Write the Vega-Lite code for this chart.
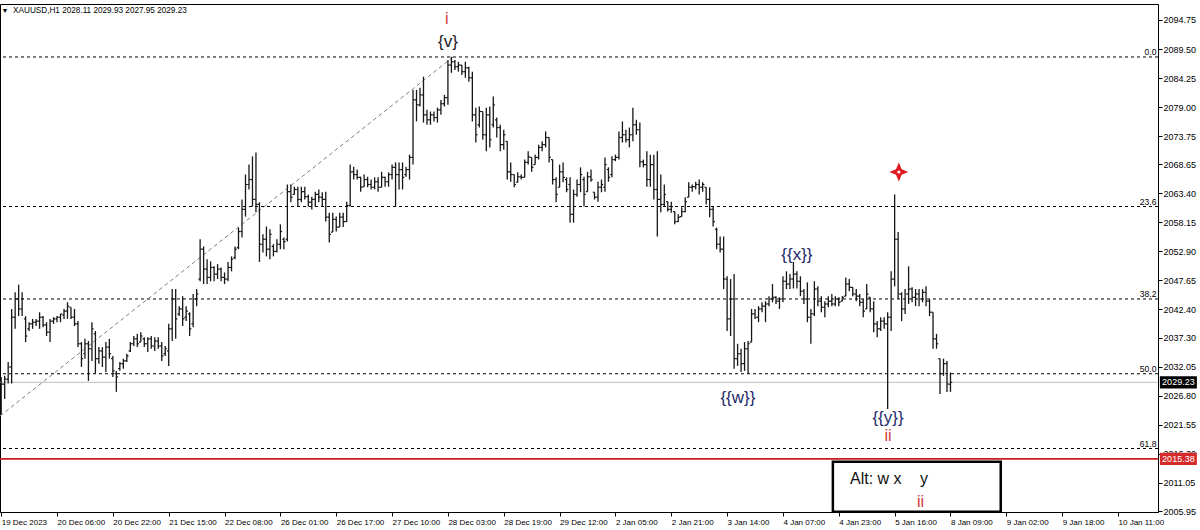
{
"$schema": "https://vega.github.io/schema/vega-lite/v6.json",
"width": 1158, "height": 508,
"autosize": {"type": "none"},
"padding": {"left": 0, "top": 4, "right": 42, "bottom": 18},
"background": "white",
"config": {"view": {"stroke": "#000", "strokeWidth": 1}, "font": "Liberation Sans", "axis": {"grid": false, "domainColor": "#000", "tickColor": "#000", "labelColor": "#000"}},
"datasets": {
"fib": [{"lvl": "0.0", "p": 2088.06}, {"lvl": "23.6", "p": 2061.02}, {"lvl": "38.2", "p": 2044.3}, {"lvl": "50.0", "p": 2030.78}, {"lvl": "61.8", "p": 2017.26}],
"bid": [{"p": 2029.23, "t": "2029.23"}],
"alert": [{"p": 2015.38, "t": "2015.38"}],
"trend": [{"i": -0.34, "p": 2023.14}, {"i": 129.5, "p": 2088.06}],
"navy": [{"i": 228.0, "p": 2052.25, "t": "{{x}}"}, {"i": 211.1, "p": 2026.39, "t": "{{w}}"}, {"i": 254.1, "p": 2022.78, "t": "{{y}}"}],
"dark": [{"i": 128.0, "p": 2090.8, "t": "{v}"}],
"red": [{"i": 127.7, "p": 2094.9, "t": "i"}, {"i": 254.1, "p": 2019.52, "t": "ii"}],
"redbox": [{"i": 263.4, "p": 2007.59, "t": "ii"}],
"star": [{"i": 257.2, "p": 2067.26}],
"box": [{"x1": 238.3, "x2": 286.4, "p1": 2005.84, "p2": 2014.88}],
"boxtext": [{"i": 243.2, "p": 2011.8, "t": "Alt: w x"}, {"i": 263.3, "p": 2011.8, "t": "y"}],
"head": [{"i": 3.4, "p": 2096.4, "t": "XAUUSD,H1  2028.11 2029.93 2027.95 2029.23"}],
"tri": [{"i": 1.1, "p": 2096.4, "t": "▼"}],
"bars": [
{"i":0,"o":2024.4,"h":2030.2,"l":2023.4,"c":2028.9},
{"i":1,"o":2028.9,"h":2030.4,"l":2026.2,"c":2029.8},
{"i":2,"o":2029.8,"h":2032.9,"l":2029.0,"c":2032.0},
{"i":3,"o":2032.0,"h":2042.5,"l":2029.0,"c":2041.0},
{"i":4,"o":2041.0,"h":2045.5,"l":2038.9,"c":2044.3},
{"i":5,"o":2044.3,"h":2046.9,"l":2041.2,"c":2042.5},
{"i":6,"o":2042.5,"h":2045.5,"l":2041.2,"c":2044.3},
{"i":7,"o":2040.7,"h":2041.2,"l":2036.5,"c":2037.6},
{"i":8,"o":2038.9,"h":2040.1,"l":2038.5,"c":2039.8},
{"i":9,"o":2039.8,"h":2040.7,"l":2038.9,"c":2040.1},
{"i":10,"o":2040.1,"h":2040.7,"l":2039.4,"c":2040.3},
{"i":11,"o":2040.3,"h":2041.9,"l":2038.9,"c":2041.0},
{"i":12,"o":2041.0,"h":2041.2,"l":2039.2,"c":2039.6},
{"i":13,"o":2039.6,"h":2040.1,"l":2037.6,"c":2038.3},
{"i":14,"o":2038.3,"h":2040.7,"l":2036.5,"c":2040.3},
{"i":15,"o":2040.3,"h":2041.0,"l":2039.8,"c":2040.7},
{"i":16,"o":2040.7,"h":2041.2,"l":2040.1,"c":2041.0},
{"i":17,"o":2041.0,"h":2041.6,"l":2040.1,"c":2041.6},
{"i":18,"o":2041.4,"h":2042.5,"l":2040.7,"c":2042.1},
{"i":19,"o":2042.1,"h":2043.7,"l":2040.7,"c":2043.0},
{"i":20,"o":2042.8,"h":2042.8,"l":2040.7,"c":2041.0},
{"i":21,"o":2041.0,"h":2042.5,"l":2039.4,"c":2039.8},
{"i":22,"o":2039.8,"h":2040.3,"l":2035.6,"c":2036.2},
{"i":23,"o":2036.2,"h":2036.5,"l":2032.0,"c":2033.5},
{"i":24,"o":2034.4,"h":2037.1,"l":2033.5,"c":2036.2},
{"i":25,"o":2036.2,"h":2036.7,"l":2029.5,"c":2035.3},
{"i":26,"o":2035.3,"h":2040.1,"l":2033.1,"c":2038.9},
{"i":27,"o":2038.0,"h":2038.5,"l":2030.8,"c":2033.5},
{"i":28,"o":2033.5,"h":2035.6,"l":2032.6,"c":2034.9},
{"i":29,"o":2034.9,"h":2035.6,"l":2032.0,"c":2033.8},
{"i":30,"o":2033.8,"h":2036.5,"l":2031.1,"c":2035.6},
{"i":31,"o":2035.6,"h":2037.1,"l":2033.5,"c":2034.4},
{"i":32,"o":2033.5,"h":2034.0,"l":2030.2,"c":2031.3},
{"i":33,"o":2030.8,"h":2031.3,"l":2027.5,"c":2030.2},
{"i":34,"o":2031.7,"h":2032.9,"l":2031.3,"c":2032.6},
{"i":35,"o":2032.6,"h":2033.5,"l":2031.7,"c":2033.1},
{"i":36,"o":2033.1,"h":2034.4,"l":2032.9,"c":2034.0},
{"i":37,"o":2034.9,"h":2036.5,"l":2034.7,"c":2036.2},
{"i":38,"o":2036.2,"h":2037.6,"l":2035.8,"c":2037.1},
{"i":39,"o":2037.1,"h":2038.0,"l":2035.6,"c":2036.2},
{"i":40,"o":2036.5,"h":2038.3,"l":2036.5,"c":2037.6},
{"i":41,"o":2037.1,"h":2037.4,"l":2035.6,"c":2036.2},
{"i":42,"o":2036.2,"h":2037.4,"l":2034.7,"c":2037.1},
{"i":43,"o":2037.1,"h":2037.6,"l":2035.3,"c":2035.8},
{"i":44,"o":2035.8,"h":2037.4,"l":2034.9,"c":2036.7},
{"i":45,"o":2036.7,"h":2037.4,"l":2035.3,"c":2035.8},
{"i":46,"o":2035.8,"h":2036.5,"l":2033.1,"c":2034.0},
{"i":47,"o":2034.4,"h":2035.8,"l":2034.0,"c":2035.3},
{"i":48,"o":2034.9,"h":2039.8,"l":2032.2,"c":2038.9},
{"i":49,"o":2038.9,"h":2046.1,"l":2036.7,"c":2044.3},
{"i":50,"o":2044.3,"h":2046.1,"l":2037.1,"c":2040.7},
{"i":51,"o":2041.6,"h":2043.0,"l":2041.2,"c":2042.5},
{"i":52,"o":2042.5,"h":2044.8,"l":2039.4,"c":2040.7},
{"i":53,"o":2041.0,"h":2043.0,"l":2040.3,"c":2042.1},
{"i":54,"o":2041.6,"h":2041.9,"l":2037.6,"c":2038.9},
{"i":55,"o":2039.8,"h":2045.2,"l":2039.2,"c":2044.3},
{"i":56,"o":2044.3,"h":2046.1,"l":2043.0,"c":2045.2},
{"i":57,"o":2047.9,"h":2055.1,"l":2047.5,"c":2053.3},
{"i":58,"o":2053.3,"h":2053.8,"l":2047.0,"c":2049.7},
{"i":59,"o":2049.7,"h":2051.5,"l":2047.0,"c":2048.2},
{"i":60,"o":2048.2,"h":2051.1,"l":2047.5,"c":2050.0},
{"i":61,"o":2050.0,"h":2050.2,"l":2047.5,"c":2048.8},
{"i":62,"o":2048.8,"h":2050.6,"l":2047.9,"c":2049.7},
{"i":63,"o":2049.7,"h":2050.0,"l":2047.5,"c":2048.2},
{"i":64,"o":2048.2,"h":2049.1,"l":2047.0,"c":2047.9},
{"i":65,"o":2047.9,"h":2051.0,"l":2047.5,"c":2050.0},
{"i":66,"o":2050.0,"h":2052.0,"l":2049.3,"c":2051.5},
{"i":67,"o":2051.8,"h":2053.8,"l":2051.5,"c":2053.3},
{"i":68,"o":2053.6,"h":2057.2,"l":2053.3,"c":2056.5},
{"i":69,"o":2056.5,"h":2062.3,"l":2055.4,"c":2060.5},
{"i":70,"o":2060.5,"h":2066.8,"l":2059.2,"c":2065.0},
{"i":71,"o":2065.0,"h":2068.6,"l":2064.1,"c":2065.9},
{"i":72,"o":2065.9,"h":2070.1,"l":2061.0,"c":2062.3},
{"i":73,"o":2062.3,"h":2070.8,"l":2060.0,"c":2061.4},
{"i":74,"o":2061.4,"h":2061.8,"l":2051.0,"c":2054.2},
{"i":75,"o":2054.2,"h":2056.0,"l":2052.7,"c":2055.1},
{"i":76,"o":2055.1,"h":2057.4,"l":2052.0,"c":2053.3},
{"i":77,"o":2053.3,"h":2056.9,"l":2051.5,"c":2056.0},
{"i":78,"o":2053.8,"h":2054.2,"l":2052.0,"c":2052.9},
{"i":79,"o":2052.9,"h":2055.1,"l":2052.7,"c":2054.2},
{"i":80,"o":2054.2,"h":2057.8,"l":2053.3,"c":2056.5},
{"i":81,"o":2055.1,"h":2055.4,"l":2053.3,"c":2054.7},
{"i":82,"o":2055.1,"h":2065.0,"l":2054.7,"c":2063.7},
{"i":83,"o":2063.7,"h":2065.0,"l":2061.8,"c":2062.7},
{"i":84,"o":2063.2,"h":2064.6,"l":2063.2,"c":2064.1},
{"i":85,"o":2064.1,"h":2064.6,"l":2061.0,"c":2062.3},
{"i":86,"o":2062.3,"h":2064.6,"l":2061.8,"c":2063.7},
{"i":87,"o":2063.7,"h":2064.6,"l":2062.3,"c":2062.8},
{"i":88,"o":2062.8,"h":2063.2,"l":2061.0,"c":2061.8},
{"i":89,"o":2061.8,"h":2062.8,"l":2060.5,"c":2062.3},
{"i":90,"o":2062.3,"h":2063.7,"l":2061.0,"c":2063.2},
{"i":91,"o":2063.2,"h":2064.1,"l":2061.8,"c":2062.7},
{"i":92,"o":2062.7,"h":2063.6,"l":2061.0,"c":2062.3},
{"i":93,"o":2062.3,"h":2063.7,"l":2058.3,"c":2059.1},
{"i":94,"o":2059.1,"h":2059.9,"l":2054.5,"c":2056.0},
{"i":95,"o":2056.4,"h":2059.9,"l":2056.4,"c":2058.7},
{"i":96,"o":2058.7,"h":2059.2,"l":2056.5,"c":2057.3},
{"i":97,"o":2057.3,"h":2059.9,"l":2057.3,"c":2059.1},
{"i":98,"o":2059.1,"h":2059.9,"l":2057.3,"c":2058.3},
{"i":99,"o":2058.3,"h":2061.9,"l":2058.2,"c":2061.2},
{"i":100,"o":2061.2,"h":2068.6,"l":2061.0,"c":2067.3},
{"i":101,"o":2067.3,"h":2068.2,"l":2065.9,"c":2066.8},
{"i":102,"o":2066.8,"h":2067.7,"l":2065.9,"c":2066.3},
{"i":103,"o":2066.3,"h":2066.4,"l":2063.7,"c":2064.5},
{"i":104,"o":2064.6,"h":2066.8,"l":2064.6,"c":2065.9},
{"i":105,"o":2065.9,"h":2066.4,"l":2064.5,"c":2065.0},
{"i":106,"o":2065.0,"h":2065.9,"l":2064.1,"c":2064.5},
{"i":107,"o":2064.5,"h":2066.3,"l":2064.1,"c":2065.5},
{"i":108,"o":2065.5,"h":2066.3,"l":2063.7,"c":2064.5},
{"i":109,"o":2064.5,"h":2067.3,"l":2064.5,"c":2066.3},
{"i":110,"o":2066.3,"h":2066.4,"l":2064.6,"c":2065.5},
{"i":111,"o":2065.5,"h":2067.2,"l":2064.6,"c":2066.8},
{"i":112,"o":2066.8,"h":2068.6,"l":2065.9,"c":2068.1},
{"i":113,"o":2068.1,"h":2069.0,"l":2061.0,"c":2066.8},
{"i":114,"o":2066.8,"h":2069.0,"l":2064.1,"c":2067.7},
{"i":115,"o":2067.7,"h":2069.0,"l":2064.1,"c":2066.3},
{"i":116,"o":2066.8,"h":2068.2,"l":2066.4,"c":2067.7},
{"i":117,"o":2067.7,"h":2070.4,"l":2065.9,"c":2069.9},
{"i":118,"o":2069.9,"h":2082.1,"l":2068.6,"c":2080.3},
{"i":119,"o":2080.3,"h":2082.1,"l":2076.4,"c":2079.4},
{"i":120,"o":2079.4,"h":2082.5,"l":2079.1,"c":2081.2},
{"i":121,"o":2081.2,"h":2084.5,"l":2076.2,"c":2077.6},
{"i":122,"o":2077.6,"h":2078.5,"l":2075.8,"c":2076.7},
{"i":123,"o":2076.7,"h":2078.2,"l":2075.8,"c":2077.6},
{"i":124,"o":2077.6,"h":2078.2,"l":2076.4,"c":2077.1},
{"i":125,"o":2077.1,"h":2078.9,"l":2076.2,"c":2078.5},
{"i":126,"o":2078.5,"h":2080.3,"l":2077.6,"c":2079.6},
{"i":127,"o":2079.6,"h":2081.2,"l":2079.1,"c":2080.7},
{"i":128,"o":2080.7,"h":2087.5,"l":2079.4,"c":2086.6},
{"i":129,"o":2086.6,"h":2088.1,"l":2085.2,"c":2087.2},
{"i":130,"o":2087.2,"h":2087.5,"l":2085.7,"c":2086.3},
{"i":131,"o":2086.3,"h":2087.2,"l":2085.4,"c":2086.6},
{"i":132,"o":2086.6,"h":2086.6,"l":2084.8,"c":2085.4},
{"i":133,"o":2085.4,"h":2087.2,"l":2084.3,"c":2086.1},
{"i":134,"o":2086.1,"h":2086.3,"l":2083.6,"c":2084.3},
{"i":135,"o":2084.3,"h":2085.4,"l":2076.4,"c":2077.6},
{"i":136,"o":2077.6,"h":2078.9,"l":2072.6,"c":2074.0},
{"i":137,"o":2075.8,"h":2079.1,"l":2075.3,"c":2078.2},
{"i":138,"o":2078.2,"h":2078.2,"l":2073.1,"c":2074.0},
{"i":139,"o":2074.0,"h":2078.9,"l":2071.0,"c":2077.6},
{"i":140,"o":2077.6,"h":2079.1,"l":2071.7,"c":2073.1},
{"i":141,"o":2075.8,"h":2080.9,"l":2075.3,"c":2079.4},
{"i":142,"o":2076.7,"h":2077.1,"l":2073.5,"c":2075.3},
{"i":143,"o":2075.3,"h":2075.8,"l":2071.0,"c":2072.2},
{"i":144,"o":2072.2,"h":2074.9,"l":2071.3,"c":2074.0},
{"i":145,"o":2072.8,"h":2072.8,"l":2065.9,"c":2067.3},
{"i":146,"o":2067.3,"h":2069.0,"l":2065.5,"c":2066.8},
{"i":147,"o":2066.8,"h":2066.8,"l":2064.5,"c":2065.0},
{"i":148,"o":2065.4,"h":2067.2,"l":2065.4,"c":2066.4},
{"i":149,"o":2066.4,"h":2066.8,"l":2065.9,"c":2066.3},
{"i":150,"o":2066.3,"h":2069.5,"l":2066.3,"c":2069.0},
{"i":151,"o":2069.0,"h":2071.0,"l":2068.6,"c":2070.0},
{"i":152,"o":2069.9,"h":2069.9,"l":2067.3,"c":2068.1},
{"i":153,"o":2068.6,"h":2070.4,"l":2068.6,"c":2069.9},
{"i":154,"o":2069.9,"h":2072.2,"l":2069.5,"c":2071.7},
{"i":155,"o":2071.7,"h":2072.8,"l":2071.0,"c":2072.2},
{"i":156,"o":2072.2,"h":2074.6,"l":2071.7,"c":2073.5},
{"i":157,"o":2073.5,"h":2073.5,"l":2069.0,"c":2069.9},
{"i":158,"o":2069.5,"h":2069.5,"l":2065.0,"c":2065.9},
{"i":159,"o":2065.9,"h":2066.3,"l":2061.8,"c":2063.2},
{"i":160,"o":2064.5,"h":2068.6,"l":2064.5,"c":2067.3},
{"i":161,"o":2067.3,"h":2069.0,"l":2065.4,"c":2066.3},
{"i":162,"o":2065.9,"h":2066.3,"l":2063.6,"c":2064.1},
{"i":163,"o":2065.0,"h":2066.3,"l":2058.1,"c":2059.6},
{"i":164,"o":2059.6,"h":2064.1,"l":2058.1,"c":2063.2},
{"i":165,"o":2063.2,"h":2065.9,"l":2062.8,"c":2065.0},
{"i":166,"o":2065.0,"h":2068.1,"l":2063.6,"c":2066.8},
{"i":167,"o":2065.9,"h":2066.4,"l":2061.0,"c":2063.2},
{"i":168,"o":2063.7,"h":2067.3,"l":2063.7,"c":2066.4},
{"i":169,"o":2066.4,"h":2067.7,"l":2065.5,"c":2065.9},
{"i":170,"o":2063.6,"h":2063.6,"l":2062.3,"c":2062.7},
{"i":171,"o":2062.7,"h":2065.5,"l":2061.9,"c":2064.5},
{"i":172,"o":2064.5,"h":2065.9,"l":2063.6,"c":2065.0},
{"i":173,"o":2064.5,"h":2069.9,"l":2063.7,"c":2068.6},
{"i":174,"o":2067.7,"h":2068.1,"l":2065.5,"c":2066.3},
{"i":175,"o":2066.8,"h":2070.1,"l":2066.3,"c":2069.5},
{"i":176,"o":2069.5,"h":2070.4,"l":2069.2,"c":2069.9},
{"i":177,"o":2069.9,"h":2074.6,"l":2069.5,"c":2073.5},
{"i":178,"o":2073.5,"h":2076.4,"l":2072.6,"c":2074.0},
{"i":179,"o":2074.0,"h":2074.9,"l":2072.6,"c":2073.1},
{"i":180,"o":2073.1,"h":2075.3,"l":2071.7,"c":2074.0},
{"i":181,"o":2074.0,"h":2078.9,"l":2072.8,"c":2075.8},
{"i":182,"o":2075.8,"h":2076.7,"l":2074.0,"c":2074.9},
{"i":183,"o":2074.9,"h":2076.2,"l":2068.1,"c":2069.1},
{"i":184,"o":2069.1,"h":2069.5,"l":2068.1,"c":2068.6},
{"i":185,"o":2068.6,"h":2071.0,"l":2064.6,"c":2065.9},
{"i":186,"o":2065.9,"h":2070.4,"l":2064.6,"c":2068.6},
{"i":187,"o":2068.6,"h":2070.4,"l":2062.3,"c":2064.1},
{"i":188,"o":2064.1,"h":2071.0,"l":2055.6,"c":2062.3},
{"i":189,"o":2062.3,"h":2066.8,"l":2060.0,"c":2061.4},
{"i":190,"o":2061.4,"h":2065.0,"l":2061.0,"c":2063.2},
{"i":191,"o":2061.9,"h":2061.9,"l":2060.1,"c":2060.5},
{"i":192,"o":2060.5,"h":2061.9,"l":2059.9,"c":2061.0},
{"i":193,"o":2060.1,"h":2060.1,"l":2057.8,"c":2058.3},
{"i":194,"o":2058.3,"h":2059.6,"l":2058.2,"c":2059.1},
{"i":195,"o":2059.2,"h":2060.9,"l":2059.2,"c":2060.1},
{"i":196,"o":2060.1,"h":2062.7,"l":2060.0,"c":2061.9},
{"i":197,"o":2062.7,"h":2065.4,"l":2062.7,"c":2064.5},
{"i":198,"o":2064.5,"h":2065.0,"l":2063.7,"c":2064.6},
{"i":199,"o":2064.6,"h":2065.5,"l":2064.1,"c":2065.0},
{"i":200,"o":2065.0,"h":2065.9,"l":2063.2,"c":2064.5},
{"i":201,"o":2064.5,"h":2065.4,"l":2063.7,"c":2065.0},
{"i":202,"o":2064.5,"h":2064.5,"l":2061.4,"c":2062.3},
{"i":203,"o":2062.3,"h":2064.5,"l":2059.1,"c":2060.5},
{"i":204,"o":2060.5,"h":2061.0,"l":2057.4,"c":2058.3},
{"i":205,"o":2056.9,"h":2057.2,"l":2053.3,"c":2054.2},
{"i":206,"o":2054.2,"h":2055.6,"l":2052.7,"c":2053.3},
{"i":207,"o":2053.3,"h":2055.6,"l":2046.1,"c":2047.9},
{"i":208,"o":2047.9,"h":2048.4,"l":2038.5,"c":2040.7},
{"i":209,"o":2040.7,"h":2047.9,"l":2037.6,"c":2044.3},
{"i":210,"o":2044.3,"h":2048.8,"l":2031.7,"c":2033.5},
{"i":211,"o":2033.5,"h":2036.2,"l":2032.2,"c":2034.4},
{"i":212,"o":2034.4,"h":2035.3,"l":2031.1,"c":2032.6},
{"i":213,"o":2032.6,"h":2036.5,"l":2031.3,"c":2035.3},
{"i":214,"o":2035.3,"h":2036.7,"l":2030.8,"c":2036.2},
{"i":215,"o":2036.5,"h":2042.5,"l":2036.5,"c":2041.6},
{"i":216,"o":2041.6,"h":2042.5,"l":2040.7,"c":2041.0},
{"i":217,"o":2041.0,"h":2043.0,"l":2040.1,"c":2042.5},
{"i":218,"o":2042.5,"h":2043.7,"l":2041.9,"c":2043.0},
{"i":219,"o":2043.0,"h":2043.9,"l":2040.1,"c":2043.4},
{"i":220,"o":2043.4,"h":2044.8,"l":2043.0,"c":2044.3},
{"i":221,"o":2044.3,"h":2047.0,"l":2043.7,"c":2044.6},
{"i":222,"o":2044.6,"h":2044.8,"l":2043.4,"c":2043.9},
{"i":223,"o":2043.9,"h":2044.6,"l":2042.5,"c":2044.3},
{"i":224,"o":2044.3,"h":2048.4,"l":2043.7,"c":2047.5},
{"i":225,"o":2047.5,"h":2049.3,"l":2046.1,"c":2047.0},
{"i":226,"o":2047.0,"h":2048.8,"l":2046.1,"c":2047.9},
{"i":227,"o":2047.9,"h":2051.0,"l":2046.2,"c":2048.8},
{"i":228,"o":2048.8,"h":2049.3,"l":2046.2,"c":2047.5},
{"i":229,"o":2047.5,"h":2048.4,"l":2044.8,"c":2045.7},
{"i":230,"o":2045.7,"h":2046.1,"l":2043.4,"c":2044.3},
{"i":231,"o":2044.3,"h":2047.3,"l":2040.1,"c":2041.0},
{"i":232,"o":2041.0,"h":2042.5,"l":2036.2,"c":2041.6},
{"i":233,"o":2041.6,"h":2047.5,"l":2041.2,"c":2046.1},
{"i":234,"o":2046.1,"h":2046.6,"l":2043.0,"c":2043.9},
{"i":235,"o":2043.9,"h":2044.8,"l":2041.9,"c":2042.8},
{"i":236,"o":2042.8,"h":2043.9,"l":2041.0,"c":2043.4},
{"i":237,"o":2043.4,"h":2044.8,"l":2042.8,"c":2043.9},
{"i":238,"o":2043.9,"h":2045.2,"l":2043.0,"c":2043.4},
{"i":239,"o":2043.4,"h":2044.8,"l":2043.0,"c":2044.3},
{"i":240,"o":2044.3,"h":2044.6,"l":2043.0,"c":2043.7},
{"i":241,"o":2043.9,"h":2044.8,"l":2043.9,"c":2044.6},
{"i":242,"o":2044.8,"h":2048.2,"l":2044.8,"c":2047.0},
{"i":243,"o":2047.0,"h":2047.9,"l":2045.7,"c":2046.4},
{"i":244,"o":2046.4,"h":2046.4,"l":2044.8,"c":2045.2},
{"i":245,"o":2045.2,"h":2046.1,"l":2043.9,"c":2044.8},
{"i":246,"o":2044.8,"h":2045.2,"l":2043.0,"c":2043.7},
{"i":247,"o":2043.7,"h":2044.3,"l":2041.0,"c":2042.1},
{"i":248,"o":2042.5,"h":2047.0,"l":2042.5,"c":2045.2},
{"i":249,"o":2044.6,"h":2044.6,"l":2041.9,"c":2042.5},
{"i":250,"o":2042.5,"h":2043.9,"l":2038.3,"c":2039.8},
{"i":251,"o":2039.8,"h":2040.3,"l":2037.4,"c":2038.9},
{"i":252,"o":2038.9,"h":2041.0,"l":2038.5,"c":2040.3},
{"i":253,"o":2040.3,"h":2041.0,"l":2038.9,"c":2039.8},
{"i":254,"o":2039.8,"h":2041.9,"l":2024.4,"c":2041.0},
{"i":255,"o":2041.0,"h":2049.3,"l":2038.5,"c":2047.9},
{"i":256,"o":2047.9,"h":2063.2,"l":2046.6,"c":2055.1},
{"i":257,"o":2055.1,"h":2056.4,"l":2044.3,"c":2045.2},
{"i":258,"o":2045.2,"h":2045.5,"l":2040.3,"c":2042.5},
{"i":259,"o":2042.5,"h":2046.1,"l":2041.6,"c":2045.2},
{"i":260,"o":2045.2,"h":2050.2,"l":2043.4,"c":2046.1},
{"i":261,"o":2046.1,"h":2046.4,"l":2043.7,"c":2044.6},
{"i":262,"o":2044.6,"h":2046.1,"l":2043.0,"c":2045.2},
{"i":263,"o":2045.2,"h":2046.1,"l":2043.0,"c":2044.3},
{"i":264,"o":2044.3,"h":2046.1,"l":2043.7,"c":2045.5},
{"i":265,"o":2045.5,"h":2046.6,"l":2043.0,"c":2043.9},
{"i":266,"o":2043.9,"h":2044.3,"l":2041.2,"c":2041.9},
{"i":267,"o":2041.9,"h":2041.9,"l":2035.3,"c":2037.1},
{"i":268,"o":2037.1,"h":2038.0,"l":2035.3,"c":2036.2},
{"i":269,"o":2033.5,"h":2033.5,"l":2027.1,"c":2030.8},
{"i":270,"o":2030.8,"h":2033.5,"l":2030.4,"c":2032.6},
{"i":271,"o":2032.6,"h":2033.1,"l":2027.5,"c":2028.9},
{"i":272,"o":2028.9,"h":2031.0,"l":2027.5,"c":2029.23}
]
},
"layer": [
{"data": {"name": "fib"}, "mark": {"type": "rule", "strokeDash": [3, 3], "color": "#000", "strokeWidth": 1},
 "encoding": {"y": {"field": "p", "type": "quantitative", "scale": {"domain": [2005.78, 2097.64], "nice": false, "zero": false}}}},
{"data": {"name": "bid"}, "mark": {"type": "rule", "color": "#bdbdbd", "strokeWidth": 1},
 "encoding": {"y": {"field": "p", "type": "quantitative", "scale": {"domain": [2005.78, 2097.64], "nice": false, "zero": false}}}},
{"data": {"name": "alert"}, "mark": {"type": "rule", "color": "#c81e1e", "strokeWidth": 1.6},
 "encoding": {"y": {"field": "p", "type": "quantitative", "scale": {"domain": [2005.78, 2097.64], "nice": false, "zero": false}}}},
{"data": {"name": "trend"}, "mark": {"type": "line", "color": "#808080", "strokeWidth": 1, "strokeDash": [4, 3]},
 "encoding": {"x": {"field": "i", "type": "quantitative", "scale": {"domain": [-0.34, 331.46], "nice": false, "zero": false}},
  "y": {"field": "p", "type": "quantitative", "scale": {"domain": [2005.78, 2097.64], "nice": false, "zero": false}}}},
{"data": {"name": "fib"}, "mark": {"type": "text", "align": "right", "baseline": "alphabetic", "dy": -2, "fontSize": 8.5, "color": "#000"},
 "encoding": {"x": {"datum": 331.0, "type": "quantitative", "scale": {"domain": [-0.34, 331.46], "nice": false, "zero": false}},
  "y": {"field": "p", "type": "quantitative", "scale": {"domain": [2005.78, 2097.64], "nice": false, "zero": false}},
  "text": {"field": "lvl"}}},
{"data": {"name": "bars"}, "mark": {"type": "rule", "color": "#161616", "strokeWidth": 1.3},
 "encoding": {"x": {"field": "i", "type": "quantitative", "scale": {"domain": [-0.34, 331.46], "nice": false, "zero": false},
   "axis": {"values": [0, 16, 32, 48, 64, 80, 96, 112, 128, 144, 160, 176, 192, 208, 224, 240, 256, 272, 288, 304, 320],
    "labelExpr": "['19 Dec 2023','20 Dec 06:00','20 Dec 22:00','21 Dec 15:00','22 Dec 08:00','26 Dec 01:00','26 Dec 17:00','27 Dec 10:00','28 Dec 03:00','28 Dec 19:00','29 Dec 12:00','2 Jan 05:00','2 Jan 21:00','3 Jan 14:00','4 Jan 07:00','4 Jan 23:00','5 Jan 16:00','8 Jan 09:00','9 Jan 02:00','9 Jan 18:00','10 Jan 11:00'][round(datum.value/16)]",
    "labelAlign": "left", "labelBaseline": "top", "labelPadding": 2, "labelFontSize": 8, "labelFont": "Liberation Sans", "labelDx": 1,
    "tickSize": 4, "tickCount": 40, "labelFlush": false, "labelOverlap": false, "title": null, "grid": false, "orient": "bottom", "domain": true}},
  "y": {"field": "l", "type": "quantitative", "scale": {"domain": [2005.78, 2097.64], "nice": false, "zero": false},
   "axis": {"orient": "right", "values": [2005.95, 2011.05, 2016.3, 2021.55, 2026.8, 2032.05, 2037.3, 2042.4, 2047.65, 2052.9, 2058.15, 2063.4, 2068.65, 2073.75, 2079, 2084.25, 2089.5, 2094.75],
    "format": ".2f", "labelFontSize": 9, "labelFont": "Liberation Sans", "tickSize": 4, "tickCount": 40, "labelPadding": 1, "labelFlush": false, "labelOverlap": false, "title": null, "grid": false, "domain": true}},
  "y2": {"field": "h"}}},
{"data": {"name": "bars"}, "mark": {"type": "point", "shape": "M-1,0H0", "filled": false, "color": "#161616", "strokeWidth": 1.2, "size": 12, "opacity": 1},
 "encoding": {"x": {"field": "i", "type": "quantitative", "scale": {"domain": [-0.34, 331.46], "nice": false, "zero": false}},
  "y": {"field": "o", "type": "quantitative", "scale": {"domain": [2005.78, 2097.64], "nice": false, "zero": false}}}},
{"data": {"name": "bars"}, "mark": {"type": "point", "shape": "M0,0H1", "filled": false, "color": "#161616", "strokeWidth": 1.2, "size": 12, "opacity": 1},
 "encoding": {"x": {"field": "i", "type": "quantitative", "scale": {"domain": [-0.34, 331.46], "nice": false, "zero": false}},
  "y": {"field": "c", "type": "quantitative", "scale": {"domain": [2005.78, 2097.64], "nice": false, "zero": false}}}},
{"data": {"name": "navy"}, "mark": {"type": "text", "fontSize": 17, "color": "#1f2a6b", "baseline": "middle", "align": "center"},
 "encoding": {"x": {"field": "i", "type": "quantitative", "scale": {"domain": [-0.34, 331.46], "nice": false, "zero": false}},
  "y": {"field": "p", "type": "quantitative", "scale": {"domain": [2005.78, 2097.64], "nice": false, "zero": false}},
  "text": {"field": "t"}}},
{"data": {"name": "dark"}, "mark": {"type": "text", "fontSize": 17, "color": "#1a1a2a", "baseline": "middle", "align": "center"},
 "encoding": {"x": {"field": "i", "type": "quantitative", "scale": {"domain": [-0.34, 331.46], "nice": false, "zero": false}},
  "y": {"field": "p", "type": "quantitative", "scale": {"domain": [2005.78, 2097.64], "nice": false, "zero": false}},
  "text": {"field": "t"}}},
{"data": {"name": "red"}, "mark": {"type": "text", "fontSize": 16, "color": "#cf3a3a", "baseline": "middle", "align": "center"},
 "encoding": {"x": {"field": "i", "type": "quantitative", "scale": {"domain": [-0.34, 331.46], "nice": false, "zero": false}},
  "y": {"field": "p", "type": "quantitative", "scale": {"domain": [2005.78, 2097.64], "nice": false, "zero": false}},
  "text": {"field": "t"}}},
{"data": {"name": "star"}, "mark": {"type": "point", "shape": "M0,-1L0.3,-0.3L1,0L0.3,0.3L0,1L-0.3,0.3L-1,0L-0.3,-0.3Z", "filled": true, "color": "#e01b24", "size": 360, "opacity": 1},
 "encoding": {"x": {"field": "i", "type": "quantitative", "scale": {"domain": [-0.34, 331.46], "nice": false, "zero": false}},
  "y": {"field": "p", "type": "quantitative", "scale": {"domain": [2005.78, 2097.64], "nice": false, "zero": false}}}},
{"data": {"name": "star"}, "mark": {"type": "point", "shape": "circle", "filled": true, "color": "#ffffff", "size": 10, "opacity": 1},
 "encoding": {"x": {"field": "i", "type": "quantitative", "scale": {"domain": [-0.34, 331.46], "nice": false, "zero": false}},
  "y": {"field": "p", "type": "quantitative", "scale": {"domain": [2005.78, 2097.64], "nice": false, "zero": false}}}},
{"data": {"name": "box"}, "mark": {"type": "rect", "fill": "#ffffff", "stroke": "#000", "strokeWidth": 2.5},
 "encoding": {"x": {"field": "x1", "type": "quantitative", "scale": {"domain": [-0.34, 331.46], "nice": false, "zero": false}},
  "x2": {"field": "x2"},
  "y": {"field": "p1", "type": "quantitative", "scale": {"domain": [2005.78, 2097.64], "nice": false, "zero": false}},
  "y2": {"field": "p2"}}},
{"data": {"name": "boxtext"}, "mark": {"type": "text", "fontSize": 16, "color": "#111", "baseline": "middle", "align": "left"},
 "encoding": {"x": {"field": "i", "type": "quantitative", "scale": {"domain": [-0.34, 331.46], "nice": false, "zero": false}},
  "y": {"field": "p", "type": "quantitative", "scale": {"domain": [2005.78, 2097.64], "nice": false, "zero": false}},
  "text": {"field": "t"}}},
{"data": {"name": "redbox"}, "mark": {"type": "text", "fontSize": 16, "color": "#cf3a3a", "baseline": "middle", "align": "center"},
 "encoding": {"x": {"field": "i", "type": "quantitative", "scale": {"domain": [-0.34, 331.46], "nice": false, "zero": false}},
  "y": {"field": "p", "type": "quantitative", "scale": {"domain": [2005.78, 2097.64], "nice": false, "zero": false}},
  "text": {"field": "t"}}},
{"data": {"name": "head"}, "mark": {"type": "text", "fontSize": 8.2, "color": "#000", "baseline": "middle", "align": "left"},
 "encoding": {"x": {"field": "i", "type": "quantitative", "scale": {"domain": [-0.34, 331.46], "nice": false, "zero": false}},
  "y": {"field": "p", "type": "quantitative", "scale": {"domain": [2005.78, 2097.64], "nice": false, "zero": false}},
  "text": {"field": "t"}}},
{"data": {"name": "tri"}, "mark": {"type": "text", "fontSize": 7, "color": "#000", "baseline": "middle", "align": "center"},
 "encoding": {"x": {"field": "i", "type": "quantitative", "scale": {"domain": [-0.34, 331.46], "nice": false, "zero": false}},
  "y": {"field": "p", "type": "quantitative", "scale": {"domain": [2005.78, 2097.64], "nice": false, "zero": false}},
  "text": {"field": "t"}}},
{"data": {"name": "bid"}, "mark": {"type": "point", "shape": "M-1,-0.33H1V0.33H-1Z", "filled": true, "color": "#000", "size": 1369, "opacity": 1},
 "encoding": {"x": {"datum": 337.3, "type": "quantitative", "scale": {"domain": [-0.34, 331.46], "nice": false, "zero": false}},
  "y": {"field": "p", "type": "quantitative", "scale": {"domain": [2005.78, 2097.64], "nice": false, "zero": false}}}},
{"data": {"name": "alert"}, "mark": {"type": "point", "shape": "M-1,-0.33H1V0.33H-1Z", "filled": true, "color": "#d42a2a", "size": 1369, "opacity": 1},
 "encoding": {"x": {"datum": 337.3, "type": "quantitative", "scale": {"domain": [-0.34, 331.46], "nice": false, "zero": false}},
  "y": {"field": "p", "type": "quantitative", "scale": {"domain": [2005.78, 2097.64], "nice": false, "zero": false}}}},
{"data": {"name": "bid"}, "mark": {"type": "text", "fontSize": 9, "color": "#fff", "baseline": "middle", "align": "center"},
 "encoding": {"x": {"datum": 337.3, "type": "quantitative", "scale": {"domain": [-0.34, 331.46], "nice": false, "zero": false}},
  "y": {"field": "p", "type": "quantitative", "scale": {"domain": [2005.78, 2097.64], "nice": false, "zero": false}},
  "text": {"field": "t"}}},
{"data": {"name": "alert"}, "mark": {"type": "text", "fontSize": 9, "color": "#fff", "baseline": "middle", "align": "center"},
 "encoding": {"x": {"datum": 337.3, "type": "quantitative", "scale": {"domain": [-0.34, 331.46], "nice": false, "zero": false}},
  "y": {"field": "p", "type": "quantitative", "scale": {"domain": [2005.78, 2097.64], "nice": false, "zero": false}},
  "text": {"field": "t"}}}
]
}
